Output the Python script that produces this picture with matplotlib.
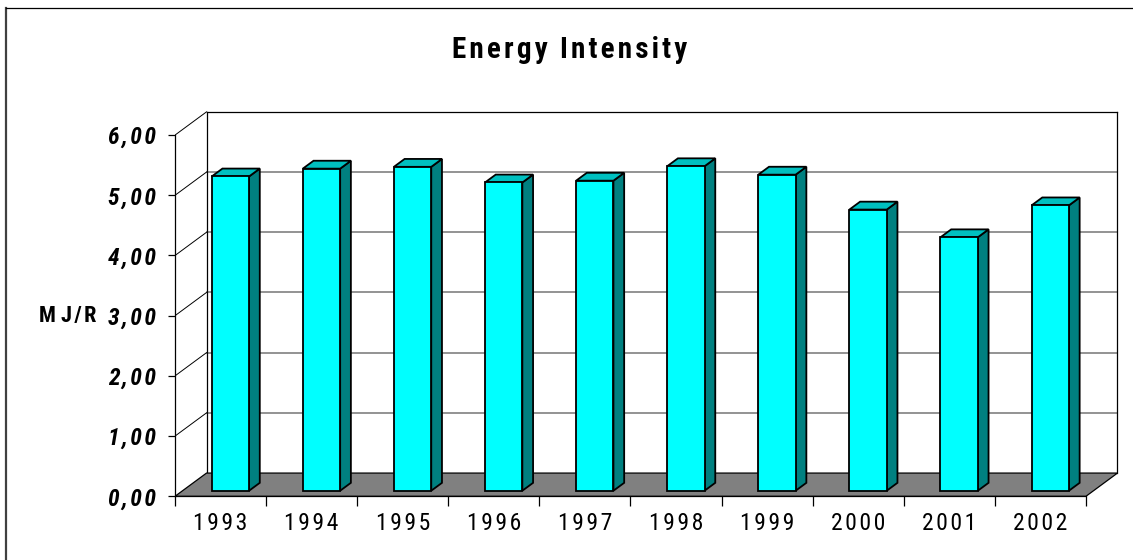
import matplotlib
matplotlib.use('Agg')
import matplotlib.pyplot as plt
from matplotlib.patches import Polygon
from matplotlib.lines import Line2D

#=====================================================

years = ['1993', '1994', '1995', '1996', '1997', '1998', '1999', '2000', '2001', '2002']
intensity = [5.22, 5.35, 5.38, 5.12, 5.15, 5.39, 5.25, 4.67, 4.21, 4.74]  # MJ/R
y_ticks = [0, 1, 2, 3, 4, 5, 6]

title = 'Energy Intensity'
y_label = 'M J/R'

#=====================================================

FONT = ['Roboto Condensed', 'DejaVu Sans']
HAIR = '\u200a'
THIN = '\u2009'

DX, DY = 0.346, 0.386       # depth of the floor / walls (data units)
BAR_OFF, BAR_W = 0.32, 0.41 # bar position inside the category
BAR_F, BAR_D = 0.24, 0.34   # bar front position / depth as fraction of DX, DY

FRONT = '#00FFFF'
TOP = '#00C0C0'
SIDE = '#008080'
FLOOR = '#808080'

#-----------------------------------------------------

def spaced(s, gap=HAIR, word_gap=' '):
    return word_gap.join(gap.join(list(w)) for w in s.split(' '))

#-----------------------------------------------------

def main():

    fig = plt.figure(figsize=(11.33, 5.6), dpi=100)
    ax = fig.add_axes([175/1133, 63.7/560, 947.4/1133, 388.3/560])
    ax.set_xlim(0, 10.4)
    ax.set_ylim(0, 6.45)

    drawWalls(ax)
    drawBars(ax)
    formatAxes(ax)

    fig.text(570/1133, 1 - 58/560, spaced(title, word_gap=' ' + THIN), ha='center',
             va='baseline', fontsize=21, fontweight='bold', family=FONT)

    # chart border (only left and top edges visible)
    fig.add_artist(Line2D([6/1133, 6/1133], [0, 1 - 8/560], transform=fig.transFigure,
                          color='#404040', lw=1.6))
    fig.add_artist(Line2D([6/1133, 1], [1 - 8/560, 1 - 8/560], transform=fig.transFigure,
                          color='black', lw=0.9))

    fig.savefig('out.png', dpi=100)

#-----------------------------------------------------

def drawWalls(ax):

    n = len(years)
    top = y_ticks[-1]

    # back wall gridlines
    for v in y_ticks[1:-1]:
        ax.plot([DX, n + DX], [v + DY, v + DY], color='#808080', lw=1.2, zorder=1)
    ax.plot([DX, n + DX], [top + DY, top + DY], color='black', lw=0.9, zorder=1)
    ax.plot([DX, DX], [DY, top + DY], color='black', lw=0.9, zorder=1)
    ax.plot([n + DX, n + DX], [DY, top + DY], color='black', lw=0.9, zorder=1)

    # side wall diagonals
    for v in y_ticks[1:]:
        ax.plot([0, DX], [v, v + DY], color='black', lw=0.7, zorder=1)

    floor = Polygon([(0, 0), (n, 0), (n + DX, DY), (DX, DY)], closed=True,
                    fc=FLOOR, ec='black', lw=0.9, zorder=2)
    ax.add_patch(floor)

#-----------------------------------------------------

def drawBars(ax):

    fx, fy = BAR_F * DX, BAR_F * DY
    dx, dy = BAR_D * DX, BAR_D * DY

    for i, v in enumerate(intensity):
        x0 = i + BAR_OFF + fx
        x1 = x0 + BAR_W
        front = [(x0, fy), (x1, fy), (x1, v + fy), (x0, v + fy)]
        side = [(x1, fy), (x1 + dx, fy + dy), (x1 + dx, v + fy + dy), (x1, v + fy)]
        topf = [(x0, v + fy), (x1, v + fy), (x1 + dx, v + fy + dy), (x0 + dx, v + fy + dy)]
        for pts, c in [(side, SIDE), (topf, TOP), (front, FRONT)]:
            ax.add_patch(Polygon(pts, closed=True, fc=c, ec='black', lw=1.3,
                                 joinstyle='miter', zorder=3))

#-----------------------------------------------------

def formatAxes(ax):

    n = len(years)

    for s in ['top', 'right']:
        ax.spines[s].set_visible(False)
    ax.spines['left'].set_bounds(0, y_ticks[-1])
    ax.spines['bottom'].set_bounds(0, n)
    ax.spines['left'].set_linewidth(0.9)
    ax.spines['bottom'].set_linewidth(0.9)
    ax.spines['left'].set_zorder(4)

    ax.set_yticks(y_ticks)
    ax.set_yticklabels([spaced(f'{v:.2f}'.replace('.', ',')) for v in y_ticks])
    ax.tick_params(axis='y', direction='out', length=5, width=0.9, pad=9)
    for lab in ax.get_yticklabels():
        lab.set_family(FONT)
        lab.set_fontsize(17)
        lab.set_fontweight('bold')
        lab.set_fontstyle('italic')

    ax.set_xticks(range(n + 1))
    ax.set_xticklabels([])
    ax.set_xticks([i + 0.5 for i in range(n)], minor=True)
    ax.set_xticklabels([spaced(y) for y in years], minor=True)
    ax.tick_params(axis='x', which='major', direction='out', length=7, width=0.9)
    ax.tick_params(axis='x', which='minor', length=0, pad=11)
    for lab in ax.get_xticklabels(minor=True):
        lab.set_family(FONT)
        lab.set_fontsize(17)

    ax.set_ylabel(spaced(y_label), rotation=0, fontsize=16, fontweight='bold',
                  family=FONT, ha='center', va='center')
    ax.yaxis.set_label_coords(-0.113, 3 / 6.45)

#=====================================================

if __name__ == '__main__':
    main()
